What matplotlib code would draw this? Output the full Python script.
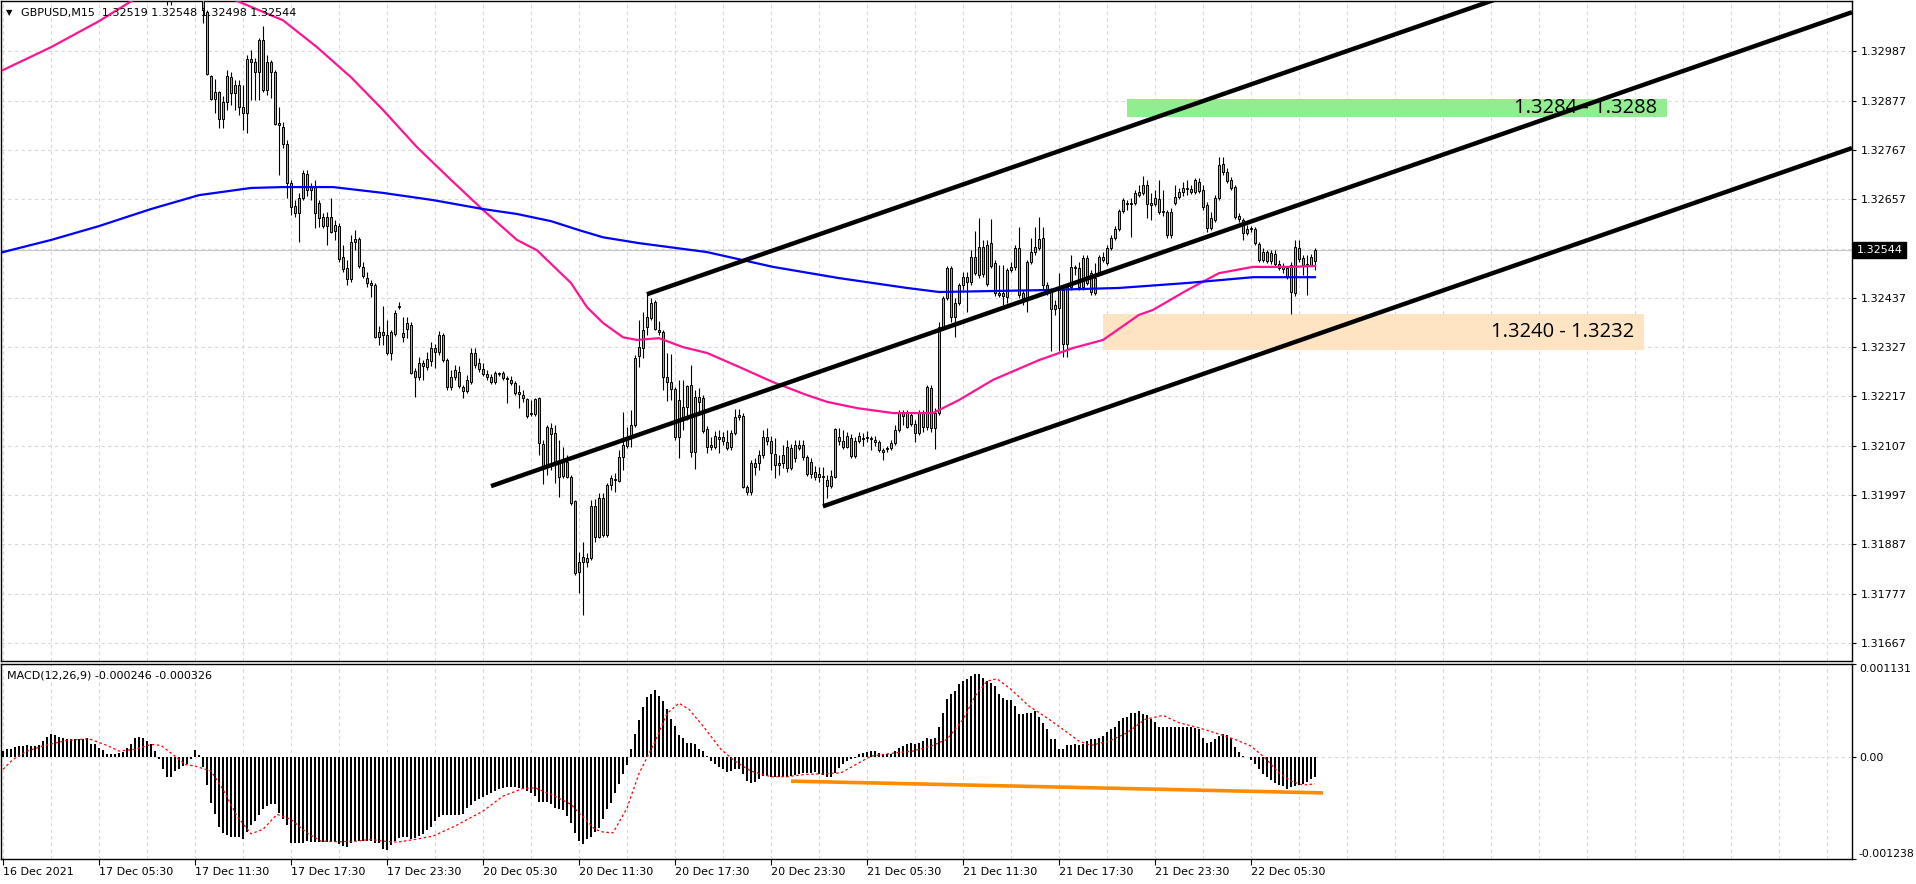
import numpy as np
import matplotlib
matplotlib.use("Agg")
import matplotlib.pyplot as plt
from matplotlib.patches import Rectangle

# GBPUSD M15 candles, prices in points (1 point = 0.00001), bars 41..328
first_bar = 41
opens = [133150, 133120, 133140, 133180, 133210, 133190, 133160, 133170, 133140, 133130,
         133074, 132932, 132880, 132896, 132836, 132874, 132929, 132894, 132911, 132862,
         132849, 132969, 132963, 132940, 133012, 132900, 132963, 132940, 132827, 132818,
         132780, 132693, 132642, 132626, 132659, 132713, 132686, 132684, 132648, 132617,
         132617, 132617, 132586, 132597, 132528, 132503, 132479, 132568, 132568, 132506,
         132481, 132470, 132465, 132349, 132361, 132354, 132314, 132356, 132416, 132358,
         132381, 132376, 132274, 132260, 132292, 132283, 132296, 132325, 132316, 132354,
         132298, 132238, 132260, 132271, 132238, 132229, 132249, 132314, 132292, 132278,
         132267, 132260, 132249, 132269, 132269, 132258, 132254, 132247, 132227, 132220,
         132211, 132180, 132178, 132213, 132111, 132060, 132147, 132135, 132069, 132040,
         132071, 132037, 131984, 131848, 131859, 131848, 131857, 131973, 131903, 131990,
         131908, 132019, 132033, 132028, 132082, 132106, 132131, 132153, 132307, 132325,
         132372, 132392, 132428, 132365, 132361, 132260, 132249, 132234, 132126, 132169,
         132193, 132242, 132093, 132216, 132213, 132144, 132109, 132104, 132126, 132126,
         132115, 132104, 132135, 132176, 132173, 132015, 132004, 132069, 132069, 132086,
         132126, 132118, 132089, 132069, 132069, 132104, 132057, 132080, 132102, 132109,
         132082, 132044, 132048, 132044, 132040, 132017, 132017, 132037, 132126, 132118,
         132104, 132124, 132084, 132118, 132124, 132126, 132124, 132120, 132115, 132097,
         132102, 132102, 132113, 132142, 132180, 132149, 132176, 132155, 132135, 132180,
         132149, 132236, 132180, 132180, 132372, 132436, 132503, 132425, 132425, 132465,
         132483, 132472, 132528, 132488, 132550, 132468, 132559, 132515, 132448, 132448,
         132439, 132499, 132506, 132548, 132448, 132436, 132517, 132539, 132548, 132570,
         132465, 132454, 132421, 132414, 132454, 132334, 132461, 132506, 132503, 132461,
         132526, 132492, 132481, 132492, 132521, 132515, 132548, 132570, 132590, 132630,
         132646, 132648, 132648, 132666, 132671, 132688, 132648, 132646, 132657, 132630,
         132628, 132577, 132648, 132662, 132673, 132682, 132680, 132673, 132695, 132677,
         132644, 132593, 132610, 132659, 132735, 132717, 132700, 132684, 132619, 132610,
         132581, 132593, 132590, 132557, 132521, 132539, 132519, 132535, 132512, 132506,
         132503, 132510, 132448, 132548, 132526, 132512, 132510, 132519]
highs = [133180, 133170, 133200, 133230, 133250, 133220, 133200, 133190, 133160, 133150,
         133079, 132934, 132925, 132898, 132887, 132945, 132940, 132923, 132923, 132911,
         132978, 132989, 132972, 133016, 133043, 132978, 132967, 132945, 132862, 132829,
         132789, 132700, 132655, 132671, 132722, 132722, 132693, 132700, 132655, 132626,
         132628, 132659, 132610, 132604, 132555, 132521, 132577, 132588, 132573, 132517,
         132494, 132477, 132470, 132374, 132419, 132387, 132365, 132410, 132428, 132394,
         132394, 132383, 132280, 132305, 132298, 132316, 132338, 132334, 132363, 132358,
         132303, 132276, 132287, 132285, 132242, 132265, 132325, 132325, 132303, 132292,
         132276, 132267, 132274, 132271, 132274, 132263, 132263, 132251, 132242, 132231,
         132213, 132209, 132213, 132216, 132120, 132153, 132158, 132153, 132120, 132104,
         132086, 132042, 131986, 131870, 131892, 131868, 131986, 131988, 132002, 132002,
         132024, 132042, 132046, 132097, 132182, 132149, 132187, 132309, 132387, 132405,
         132448, 132436, 132432, 132385, 132365, 132314, 132312, 132238, 132254, 132254,
         132242, 132287, 132231, 132236, 132220, 132151, 132126, 132140, 132142, 132138,
         132142, 132142, 132189, 132189, 132180, 132019, 132075, 132080, 132097, 132142,
         132147, 132129, 132124, 132086, 132109, 132120, 132111, 132120, 132120, 132120,
         132086, 132080, 132062, 132060, 132060, 132042, 132053, 132147, 132147, 132142,
         132138, 132133, 132126, 132138, 132135, 132140, 132129, 132129, 132120, 132102,
         132106, 132120, 132153, 132187, 132187, 132187, 132182, 132164, 132187, 132187,
         132242, 132242, 132191, 132383, 132441, 132508, 132508, 132436, 132470, 132494,
         132494, 132543, 132586, 132615, 132566, 132566, 132613, 132521, 132510, 132510,
         132503, 132517, 132555, 132595, 132454, 132521, 132570, 132595, 132617, 132595,
         132472, 132459, 132432, 132492, 132459, 132465, 132532, 132510, 132517, 132532,
         132532, 132499, 132515, 132532, 132539, 132555, 132577, 132597, 132635, 132659,
         132655, 132659, 132677, 132688, 132709, 132700, 132671, 132677, 132700, 132677,
         132633, 132637, 132688, 132682, 132695, 132700, 132688, 132704, 132704, 132688,
         132651, 132628, 132666, 132751, 132751, 132726, 132706, 132688, 132626, 132615,
         132599, 132597, 132595, 132561, 132548, 132543, 132543, 132543, 132521, 132515,
         132508, 132517, 132566, 132566, 132532, 132532, 132535, 132548]
lows = [133090, 133089, 133120, 133150, 133170, 133140, 133130, 133120, 133105, 133050,
        132934, 132878, 132849, 132816, 132816, 132856, 132867, 132856, 132845, 132811,
        132804, 132878, 132878, 132878, 132896, 132889, 132882, 132822, 132711, 132771,
        132659, 132622, 132617, 132561, 132655, 132664, 132655, 132593, 132595, 132593,
        132555, 132581, 132566, 132517, 132494, 132465, 132472, 132543, 132503, 132481,
        132461, 132439, 132347, 132332, 132332, 132309, 132298, 132352, 132412, 132338,
        132347, 132267, 132216, 132254, 132254, 132276, 132285, 132280, 132309, 132294,
        132231, 132231, 132254, 132236, 132213, 132225, 132245, 132280, 132271, 132263,
        132254, 132245, 132245, 132263, 132254, 132202, 132242, 132220, 132191, 132205,
        132169, 132173, 132173, 132086, 132022, 132042, 132053, 132024, 131993, 132035,
        132035, 131975, 131819, 131779, 131730, 131837, 131852, 131892, 131901, 131903,
        131903, 132008, 132004, 132026, 132053, 132102, 132104, 132149, 132283, 132303,
        132354, 132387, 132365, 132354, 132231, 132207, 132209, 132120, 132080, 132142,
        132164, 132082, 132055, 132180, 132135, 132091, 132097, 132100, 132091, 132109,
        132097, 132097, 132131, 132164, 132013, 131997, 131997, 132042, 132053, 132080,
        132109, 132053, 132035, 132042, 132057, 132048, 132053, 132071, 132097, 132075,
        132040, 132035, 132031, 132026, 131970, 131990, 132013, 132035, 132109, 132100,
        132102, 132080, 132080, 132113, 132106, 132115, 132097, 132106, 132093, 132075,
        132093, 132097, 132109, 132138, 132153, 132147, 132151, 132115, 132131, 132138,
        132142, 132138, 132100, 132176, 132365, 132432, 132383, 132349, 132421, 132454,
        132405, 132465, 132488, 132481, 132483, 132463, 132503, 132441, 132439, 132421,
        132425, 132494, 132499, 132436, 132421, 132405, 132512, 132532, 132543, 132454,
        132443, 132318, 132399, 132318, 132305, 132305, 132454, 132488, 132454, 132454,
        132465, 132443, 132443, 132488, 132517, 132510, 132543, 132566, 132586, 132626,
        132633, 132572, 132644, 132662, 132666, 132615, 132610, 132642, 132624, 132619,
        132570, 132570, 132644, 132657, 132664, 132666, 132668, 132668, 132671, 132633,
        132584, 132588, 132606, 132655, 132711, 132693, 132677, 132613, 132606, 132566,
        132577, 132584, 132555, 132517, 132517, 132515, 132512, 132508, 132499, 132492,
        132479, 132401, 132441, 132517, 132488, 132443, 132508, 132498]
closes = [133120, 133140, 133180, 133210, 133190, 133160, 133170, 133140, 133130, 133079,
          132936, 132880, 132896, 132836, 132874, 132932, 132894, 132911, 132862, 132849,
          132969, 132963, 132940, 133012, 132900, 132963, 132940, 132824, 132822, 132780,
          132693, 132639, 132626, 132659, 132715, 132677, 132677, 132626, 132615, 132597,
          132597, 132584, 132599, 132523, 132501, 132479, 132561, 132561, 132508, 132486,
          132470, 132465, 132349, 132361, 132354, 132314, 132361, 132403, 132419, 132349,
          132367, 132269, 132260, 132292, 132285, 132300, 132325, 132316, 132354, 132298,
          132238, 132260, 132276, 132240, 132229, 132254, 132314, 132287, 132278, 132267,
          132260, 132249, 132269, 132267, 132258, 132256, 132247, 132225, 132222, 132213,
          132173, 132178, 132211, 132113, 132060, 132149, 132133, 132069, 132037, 132071,
          132037, 131979, 131823, 131825, 131848, 131857, 131973, 131903, 131990, 131908,
          132019, 132035, 132031, 132082, 132109, 132124, 132153, 132303, 132327, 132365,
          132394, 132425, 132367, 132361, 132260, 132249, 132234, 132126, 132209, 132193,
          132240, 132093, 132216, 132205, 132140, 132104, 132104, 132129, 132122, 132118,
          132102, 132135, 132171, 132171, 132015, 132004, 132069, 132060, 132086, 132126,
          132118, 132091, 132064, 132064, 132086, 132057, 132102, 132109, 132109, 132082,
          132044, 132071, 132037, 132037, 132037, 132031, 132040, 132144, 132118, 132104,
          132129, 132084, 132118, 132129, 132122, 132124, 132122, 132115, 132097, 132093,
          132100, 132113, 132142, 132180, 132173, 132180, 132155, 132135, 132180, 132149,
          132238, 132147, 132147, 132372, 132436, 132503, 132394, 132394, 132465, 132483,
          132472, 132528, 132492, 132550, 132490, 132555, 132508, 132448, 132443, 132441,
          132499, 132506, 132548, 132443, 132436, 132517, 132539, 132550, 132568, 132465,
          132454, 132412, 132412, 132454, 132334, 132461, 132506, 132503, 132461, 132526,
          132470, 132450, 132448, 132528, 132528, 132548, 132570, 132590, 132630, 132655,
          132648, 132646, 132671, 132673, 132688, 132646, 132644, 132659, 132628, 132628,
          132577, 132628, 132662, 132673, 132682, 132680, 132673, 132700, 132675, 132639,
          132593, 132615, 132659, 132733, 132717, 132697, 132682, 132617, 132613, 132581,
          132590, 132590, 132559, 132521, 132539, 132519, 132537, 132512, 132503, 132501,
          132483, 132450, 132550, 132523, 132510, 132508, 132528, 132544]

# moving averages: (bar, price in points)
ma_fast = [(0, 132945), (12, 132996), (24, 133054), (32.5, 133101), (45, 133128), (58, 133101),
           (70, 133056), (78.5, 132996), (87, 132929), (95, 132856), (103.5, 132773), (112, 132700),
           (120, 132633), (128.5, 132566), (133.5, 132543), (142, 132470), (146, 132416),
           (150, 132381), (155, 132349), (158.5, 132343), (164, 132347), (170, 132327),
           (176, 132314), (184, 132283), (192.5, 132249), (201, 132220), (206, 132205),
           (213.5, 132191), (222.5, 132180), (232.5, 132180), (239, 132209), (247.5, 132254),
           (259, 132298), (267.5, 132325), (275, 132343), (284, 132399), (287.5, 132410),
           (296, 132454), (304, 132492), (312.5, 132506), (322, 132506), (328, 132508)]
ma_slow = [(0, 132539), (12, 132566), (24, 132597), (37, 132635), (49, 132666), (62, 132682),
           (70, 132684), (82.5, 132684), (95, 132671), (107.5, 132655), (120, 132635),
           (128.5, 132624), (137, 132608), (144, 132588), (150, 132572), (159, 132559),
           (176, 132539), (192.5, 132506), (209, 132481), (226, 132459), (234, 132450),
           (259, 132454), (279, 132459), (296, 132470), (312.5, 132483), (328, 132483)]

# MACD(12,26,9) main values for bars 0..328, in millionths
macd_main = [73, 94, 94, 122, 134, 134, 142, 134, 134, 142,
             194, 243, 276, 267, 243, 227, 215, 215, 222, 222,
             222, 227, 154, 154, 113, 81, 40, 33, 40, 52,
             64, 106, 154, 227, 243, 227, 194, 162, 73, -21,
             -149, -243, -243, -170, -149, -109, -81, -21, 81, 21,
             -122, -340, -555, -689, -851, -920, -948, -972, -972, -972,
             -993, -908, -830, -778, -705, -635, -595, -575, -567, -677,
             -757, -826, -1041, -1049, -1049, -1041, -1021, -1029, -1029, -1029,
             -1033, -1033, -1033, -1033, -1053, -1081, -1090, -1049, -1021, -1021,
             -1021, -1021, -1021, -1041, -1049, -1114, -1134, -1073, -1021, -980,
             -972, -972, -1000, -988, -960, -932, -891, -851, -778, -729,
             -708, -708, -708, -708, -708, -689, -616, -583, -535, -507,
             -482, -462, -441, -413, -392, -373, -365, -365, -365, -380,
             -392, -413, -434, -474, -547, -543, -543, -567, -616, -628,
             -644, -717, -798, -920, -1021, -1061, -1000, -972, -908, -859,
             -757, -635, -555, -441, -324, -210, -101, 101, 283, 446,
             608, 733, 769, 810, 741, 680, 580, 458, 377, 267,
             227, 174, 166, 154, 94, 73, 12, -49, -89, -118,
             -149, -182, -170, -149, -142, -210, -292, -312, -304, -271,
             -231, -231, -243, -243, -243, -243, -243, -231, -222, -210,
             -198, -191, -191, -182, -203, -222, -243, -243, -191, -130,
             -89, -49, -28, -9, 33, 52, 64, 73, 73, 45,
             40, 40, 40, 73, 106, 134, 162, 174, 154, 174,
             194, 227, 215, 227, 368, 538, 701, 769, 802, 883,
             923, 944, 984, 1005, 1012, 956, 923, 903, 863, 762,
             720, 689, 689, 620, 519, 526, 531, 538, 559, 490,
             417, 337, 222, 215, 94, 94, 142, 146, 154, 142,
             162, 194, 215, 215, 227, 255, 307, 337, 368, 437,
             470, 490, 538, 538, 559, 526, 507, 458, 429, 368,
             368, 368, 368, 368, 368, 368, 368, 368, 356, 337,
             234, 174, 182, 222, 255, 276, 264, 234, 125, 61,
             12, -4, -36, -89, -149, -210, -243, -279, -320, -340,
             -352, -392, -365, -352, -340, -328, -304, -267, -246]
# signal line (bar, millionths)
macd_signal = [(0, -149), (2.5, -28), (6, 73), (10.5, 142), (16, 203), (21.5, 222), (26, 142),
               (29, 73), (33, 94), (37, 154), (39.5, 142), (43, 12), (45.5, -89), (48, -109),
               (52, -170), (55, -392), (58.5, -717), (62, -932), (65, -878), (68.5, -696),
               (72, -757), (76, -920), (79.5, -1021), (84, -1029), (88.5, -1021), (92, -1000),
               (95, -1021), (98.5, -1033), (103, -1000), (107.5, -960), (113, -838), (120, -656),
               (125, -474), (130, -380), (133, -373), (138, -474), (142, -575), (144, -677),
               (148, -878), (150, -910), (152.5, -920), (156, -620), (159, -200), (163, 190),
               (166, 530), (169, 655), (171.5, 580), (175, 377), (179.5, 94), (183, -49),
               (187, -170), (192, -239), (196, -239), (200.5, -210), (205, -203), (209.5, -191),
               (214, -69), (217, 12), (222, 45), (227.5, 73), (232, 134), (236, 215), (240, 458),
               (243, 741), (246, 923), (248.5, 951), (252, 823), (256.5, 620), (261, 477),
               (265, 337), (269, 194), (272, 142), (276.5, 194), (281, 295), (285.5, 458),
               (290, 507), (294, 417), (299, 356), (303, 295), (308, 215), (312, 134),
               (315.5, -9), (319, -191), (322, -292), (325, -340), (328, -326)]

# drawn objects
channel_upper = [(161, 1.32445), (369.75, 1.33092)]
channel_mid = [(122, 1.32017), (462.25, 1.33074)]
channel_low = [(205, 1.31972), (462.25, 1.32771)]
macd_trend = [(197, -0.000292), (330, -0.000435)]
zone_buy = (275, 410.25, 1.3232, 1.3240, "1.3240 - 1.3232")
zone_sell = (281, 416, 1.3284, 1.3288, "1.3284 - 1.3288")

price_ticks = [1.32987, 1.32877, 1.32767, 1.32657, 1.32437, 1.32327, 1.32217,
               1.32107, 1.31997, 1.31887, 1.31777, 1.31667]
price_grid = [1.32987, 1.32877, 1.32767, 1.32657, 1.32547, 1.32437, 1.32327,
              1.32217, 1.32107, 1.31997, 1.31887, 1.31777, 1.31667]
last_price = 1.32544
time_labels = ["16 Dec 2021", "17 Dec 05:30", "17 Dec 11:30", "17 Dec 17:30", "17 Dec 23:30",
               "20 Dec 05:30", "20 Dec 11:30", "20 Dec 17:30", "20 Dec 23:30", "21 Dec 05:30",
               "21 Dec 11:30", "21 Dec 17:30", "21 Dec 23:30", "22 Dec 05:30"]

plt.rcParams['font.family'] = ['DejaVu Sans']

W, H = 1916, 884
fig = plt.figure(figsize=(W / 100, H / 100), dpi=100)
ax = fig.add_axes([1 / W, (H - 661) / H, 1851 / W, 660 / H])
axm = fig.add_axes([1 / W, (H - 859) / H, 1851 / W, 195 / H])

xmin, xmax = -0.5, 462.25
grid_kw = dict(colors='#d8d8d8', linestyles=(0, (3, 3)), linewidth=0.8, zorder=0)
grid_x = np.arange(0, 462, 12)

# ---- price panel ----
ax.set_xlim(xmin, xmax)
ax.set_ylim(1.31627, 1.33099)
ax.hlines(price_grid, xmin, xmax, **grid_kw)
ax.vlines(grid_x, 1.31627, 1.33099, **grid_kw)
ax.axhline(last_price, color='#c8c8c8', lw=0.8, zorder=0.5)

for x0, x1, p0, p1, txt in [zone_buy, zone_sell]:
    col = 'bisque' if zone_buy[4] == txt else '#90ee90'
    ax.add_patch(Rectangle((x0, p0), x1 - x0, p1 - p0, facecolor=col, edgecolor='none', zorder=1))
    ax.text(x1 - 2.5, (p0 + p1) / 2, txt, ha='right', va='center', fontsize=14.5,
            family=['Open Sans', 'DejaVu Sans'], color='black', zorder=6)

bars = np.arange(first_bar, first_bar + len(closes))
o = np.array(opens) / 1e5
h = np.array(highs) / 1e5
l = np.array(lows) / 1e5
c = np.array(closes) / 1e5
up = c >= o
ax.vlines(bars, l, h, color='black', lw=0.8, zorder=3)
body_lo = np.minimum(o, c)
body_h = np.maximum(np.abs(c - o), 0.3e-5)
ax.bar(bars, body_h, bottom=body_lo, width=0.64,
       color=np.where(up, '#9acd32', '#f7931e'), edgecolor='black', linewidth=0.7, zorder=4)

fx, fy = zip(*ma_fast)
sx, sy = zip(*ma_slow)
ax.plot(fx, np.array(fy) / 1e5, color='#ff1493', lw=1.6, zorder=5)
ax.plot(sx, np.array(sy) / 1e5, color='#0000ff', lw=1.6, zorder=5)

for (x0, y0), (x1, y1) in [channel_upper, channel_mid, channel_low]:
    slope = (y1 - y0) / (x1 - x0)
    ax.plot([x0, xmax], [y0, y0 + slope * (xmax - x0)], color='black', lw=3.2,
            solid_capstyle='butt', zorder=7)

ax.yaxis.tick_right()
ax.set_yticks(price_ticks, [f"{p:.5f}" for p in price_ticks])
ax.set_xticks([])
ax.tick_params(axis='y', direction='out', length=3, width=0.8, pad=3, labelsize=8)
for s in ax.spines.values():
    s.set_linewidth(1.0)
ax.annotate(f"{last_price:.5f}", xy=(1.0, last_price), xycoords=('axes fraction', 'data'),
            xytext=(3.2, 0), textcoords='offset points', ha='left', va='center',
            fontsize=8, color='white',
            bbox=dict(boxstyle='square,pad=0.3', fc='black', ec='black'), annotation_clip=False)

ax.text(5 / 1851, 1 - 12 / 660, "\u25bc", transform=ax.transAxes, fontsize=6, va='center', ha='left')
ax.text(20 / 1851, 1 - 12 / 660, "GBPUSD,M15  1.32519 1.32548 1.32498 1.32544",
        transform=ax.transAxes, fontsize=8, va='center', ha='left', zorder=8)

# ---- MACD panel ----
axm.set_xlim(xmin, xmax)
axm.set_ylim(-0.001238, 0.001131)
axm.hlines([0], xmin, xmax, **grid_kw)
axm.vlines(grid_x, -0.001238, 0.001131, **grid_kw)
axm.bar(np.arange(len(macd_main)), np.array(macd_main) * 1e-6, width=0.72, color='black', zorder=3)
gx, gy = zip(*macd_signal)
axm.plot(gx, np.array(gy) * 1e-6, color='red', lw=0.9, linestyle=(0, (2, 2)), zorder=4)
(tx0, ty0), (tx1, ty1) = macd_trend
axm.plot([tx0, tx1], [ty0, ty1], color='#ff8c00', lw=2.6, solid_capstyle='butt', zorder=5)

axm.yaxis.tick_right()
axm.set_yticks([0.001131, 0.0, -0.001238], ["0.001131", "0.00", "-0.001238"])
ylabs = axm.get_yticklabels()
ylabs[0].set_va('top')
ylabs[2].set_va('bottom')
axm.tick_params(axis='y', direction='out', length=3, width=0.8, pad=2, labelsize=7.8)
axm.set_xticks(np.arange(0, 24 * len(time_labels), 24), time_labels)
for lab in axm.get_xticklabels():
    lab.set_ha('left')
axm.tick_params(axis='x', direction='out', length=4, width=0.8, pad=2, labelsize=8)
for s in axm.spines.values():
    s.set_linewidth(1.0)
axm.text(6 / 1851, 1 - 12 / 195, "MACD(12,26,9) -0.000246 -0.000326",
         transform=axm.transAxes, fontsize=8, va='center', ha='left')

fig.savefig("out.png", dpi=100)
